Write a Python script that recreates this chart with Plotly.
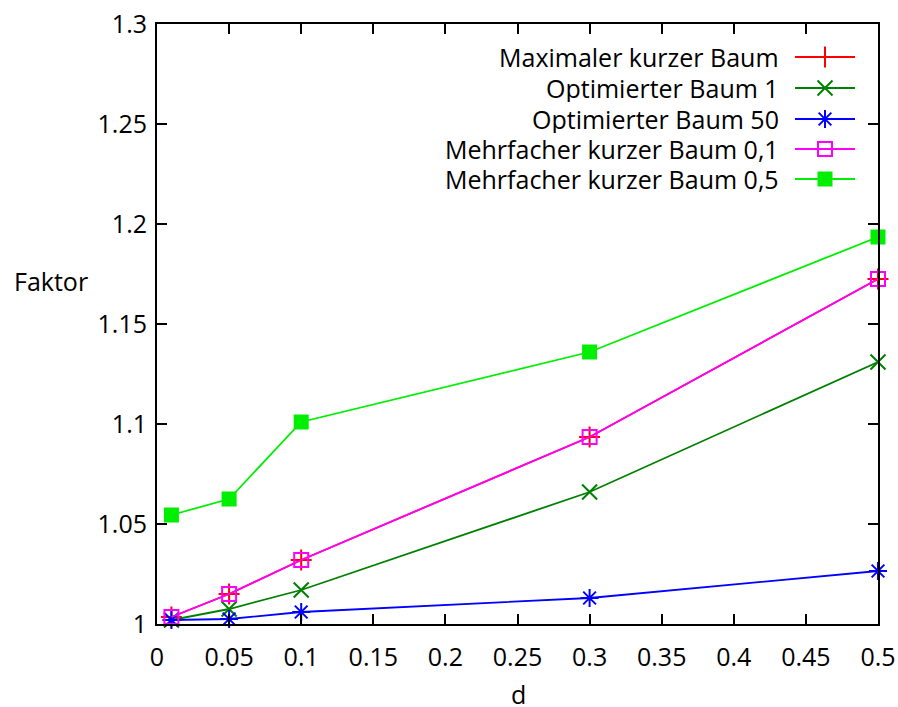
import plotly.graph_objects as go

d_values = [0.01, 0.05, 0.1, 0.3, 0.5]
series_names = [
    "Maximaler kurzer Baum",
    "Optimierter Baum 1",
    "Optimierter Baum 50",
    "Mehrfacher kurzer Baum 0,1",
    "Mehrfacher kurzer Baum 0,5",
]
max_kurz = [1.0035, 1.015, 1.032, 1.0935, 1.1725]
opt_1 = [1.002, 1.0075, 1.017, 1.066, 1.131]
opt_50 = [1.002, 1.0025, 1.006, 1.013, 1.0265]
mehr_01 = [1.0035, 1.015, 1.032, 1.0935, 1.1725]
mehr_05 = [1.0545, 1.0625, 1.101, 1.136, 1.1935]
x_ticks = [0, 0.05, 0.1, 0.15, 0.2, 0.25, 0.3, 0.35, 0.4, 0.45, 0.5]
x_tick_text = ["0", "0.05", "0.1", "0.15", "0.2", "0.25", "0.3", "0.35", "0.4", "0.45", "0.5"]
y_ticks = [1.0, 1.05, 1.1, 1.15, 1.2, 1.25, 1.3]
y_tick_text = ["1", "1.05", "1.1", "1.15", "1.2", "1.25", "1.3"]

all_values = [max_kurz, opt_1, opt_50, mehr_01, mehr_05]
colors = ["#ff0000", "#008000", "#0000ff", "#ff00ff", "#00ee00"]
symbols = ["cross-thin", "x-thin", "asterisk", "square-open", "square"]
sizes = [15, 15, 15, 14, 13]

FONT = "Open Sans"
fs = 25
W, H = 898, 707

fig = go.Figure()
for name, vals, c, s, sz in zip(series_names, all_values, colors, symbols, sizes):
    fig.add_trace(go.Scatter(
        x=d_values, y=vals, name=name, mode="lines+markers",
        line=dict(color=c, width=1.8),
        marker=dict(symbol=s, size=sz, color=c, line=dict(color=c, width=2)),
        showlegend=False, cliponaxis=False,
    ))

# plot area in screen pixels
L, R, T, B = 157, 878, 24, 624
leg_rows = [57, 88, 119, 149, 179]
for i, (name, c, s, sz) in enumerate(zip(series_names, colors, symbols, sizes)):
    yy = leg_rows[i]
    fig.add_trace(go.Scatter(
        x=[795, 855], y=[yy, yy], mode="lines", line=dict(color=c, width=1.8),
        xaxis="x2", yaxis="y2", showlegend=False, hoverinfo="skip"))
    fig.add_trace(go.Scatter(
        x=[825], y=[yy], mode="markers",
        marker=dict(symbol=s, size=sz, color=c, line=dict(color=c, width=2)),
        xaxis="x2", yaxis="y2", showlegend=False, hoverinfo="skip"))
    fig.add_annotation(x=781, y=yy, xref="x2", yref="y2", text=name, showarrow=False,
                       xanchor="right", yanchor="middle", height=28, valign="middle",
                       font=dict(family=FONT, size=fs, color="black"))

axis_common = dict(
    showline=True, linecolor="black", linewidth=2, mirror="ticks",
    ticks="inside", ticklen=10, tickwidth=2, tickcolor="black",
    showgrid=False, zeroline=False, automargin=False,
    ticklabeloverflow="allow",
    tickfont=dict(family=FONT, size=fs, color="black"),
)
fig.update_layout(
    width=W, height=H,
    margin=dict(l=L, r=W - R, t=T, b=H - B, autoexpand=False),
    plot_bgcolor="white", paper_bgcolor="white",
    xaxis=dict(range=[0, 0.5], tickvals=x_ticks, ticktext=x_tick_text,
               ticklabelstandoff=10, **axis_common),
    yaxis=dict(range=[1, 1.3], tickvals=y_ticks, ticktext=y_tick_text,
               ticklabelstandoff=3, **axis_common),
    xaxis2=dict(range=[L, R], overlaying="x", visible=False, fixedrange=True, automargin=False),
    yaxis2=dict(range=[B, T], overlaying="y", visible=False, fixedrange=True, automargin=False),
    showlegend=False,
)

def px_to_paper(px, py):
    return (px - L) / (R - L), (B - py) / (B - T)

fx, fy = px_to_paper(12, 281)
fig.add_annotation(x=fx, y=fy, xref="paper", yref="paper", text="Faktor", showarrow=False,
                   font=dict(family=FONT, size=fs, color="black"), xanchor="left", yanchor="middle")
dx, dy = px_to_paper(518, 694)
fig.add_annotation(x=dx, y=dy, xref="paper", yref="paper", text="d", showarrow=False,
                   height=22, valign="middle",
                   font=dict(family=FONT, size=fs, color="black"), xanchor="center", yanchor="middle")

fig.write_html(
    "out.html",
    config={"displayModeBar": False},
    post_script="document.body.style.margin='0';document.body.style.overflow='hidden';",
)
